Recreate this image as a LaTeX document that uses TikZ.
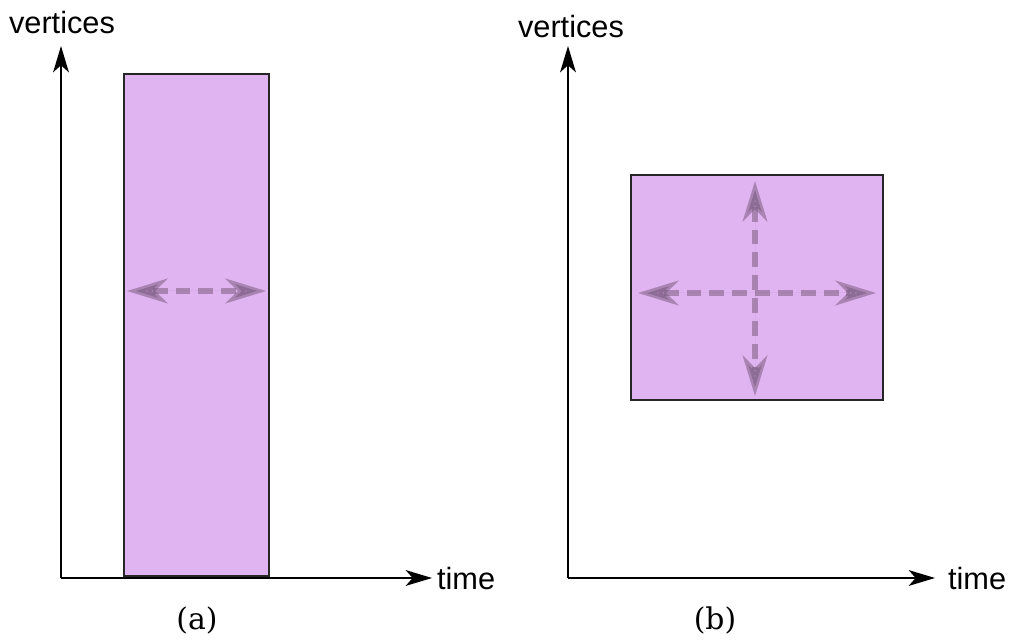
\documentclass[tikz,border=0pt]{standalone}
\usepackage{fontspec}
\setmainfont{DejaVu Serif}
\newfontfamily\labelfont{Liberation Sans}
\usetikzlibrary{arrows.meta}
\definecolor{blockfill}{RGB}{224,180,240}
\definecolor{flowgray}{RGB}{115,85,120}
\tikzset{
  axis/.style={-{Stealth[length=15pt,width=9pt,inset=4pt]}, line width=0.8pt},
  axislabel/.style={font=\labelfont\fontsize{17.5}{20}\selectfont, inner sep=1pt},
  block/.style={draw=black!85, line width=0.8pt, fill=blockfill},
  spread/.style={{Stealth[length=23pt,width=14pt,inset=7pt]}-{Stealth[length=23pt,width=14pt,inset=7pt]},
    draw=flowgray, fill=flowgray, opacity=0.5, line width=3pt, dash pattern=on 8.5pt off 4.5pt},
  caption/.style={font=\fontsize{17}{20}\selectfont}
}
\begin{document}
\begin{tikzpicture}[x=0.02cm, y=-0.02cm]
    \useasboundingbox (0,0) rectangle (1011,641);
    % (a) Lange Zeit, wenige Knoten
    \coordinate (oa) at (61,578);
    \coordinate (ya) at (61,46);
    \coordinate (xa) at (432,578);
    \draw[axis] (oa) -- (ya);
    \draw[axis] (oa) -- (xa);
    \node[axislabel, anchor=south] (va) at (62,36) {vertices};
    \node[axislabel, anchor=west] (ta) at (435,579) {time};
    \draw[block] (124,74) rectangle (269,576);
    \coordinate (la) at (127,291);
    \coordinate (ra) at (266,291);
    \draw[spread] (la) -- (ra);
    \node[caption] (capa) at (197,620) {(a)};
    % (b) Kurze Zeit, viele Knoten
    \coordinate (ob) at (568,578);
    \coordinate (yb) at (568,46);
    \coordinate (xb) at (935,578);
    \draw[axis] (ob) -- (yb);
    \draw[axis] (ob) -- (xb);
    \node[axislabel, anchor=south] (vb) at (571,40) {vertices};
    \node[axislabel, anchor=west] (tb) at (946,579) {time};
    \draw[block] (631,175) rectangle (883,400);
    \coordinate (lb) at (638,293);
    \coordinate (rb) at (876,293);
    \coordinate (ub) at (755,181);
    \coordinate (db) at (755,396);
    \draw[spread] (lb) -- (rb);
    \draw[spread] (ub) -- (db);
    \node[caption] (capb) at (715,620) {(b)};
\end{tikzpicture}
\end{document}
